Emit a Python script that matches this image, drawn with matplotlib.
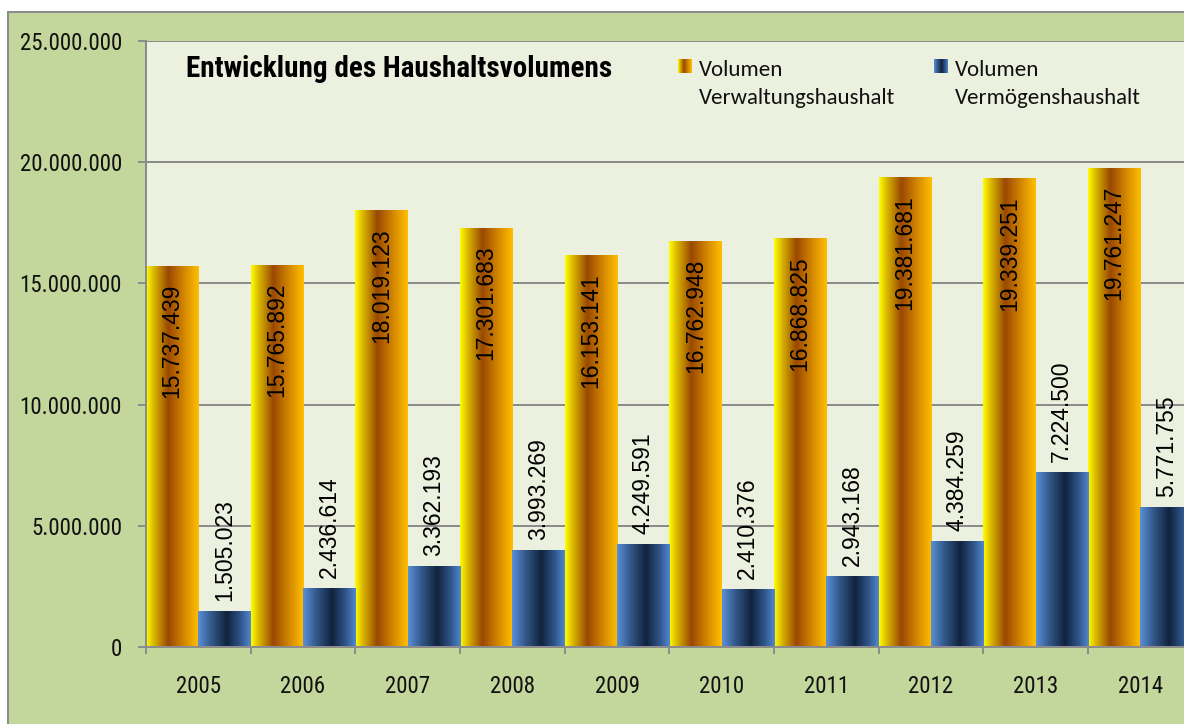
import numpy as np
import matplotlib
matplotlib.use("Agg")
import matplotlib.pyplot as plt
from matplotlib.colors import LinearSegmentedColormap
from matplotlib.patches import Rectangle
from matplotlib import font_manager as fm

years = ["2005", "2006", "2007", "2008", "2009", "2010", "2011", "2012", "2013", "2014"]
verwaltung = [15737439, 15765892, 18019123, 17301683, 16153141, 16762948, 16868825, 19381681, 19339251, 19761247]
vermoegen = [1505023, 2436614, 3362193, 3993269, 4249591, 2410376, 2943168, 4384259, 7224500, 5771755]
legend_labels = ["Volumen\nVerwaltungshaushalt", "Volumen\nVermögenshaushalt"]
title = "Entwicklung des Haushaltsvolumens"

names = {f.name for f in fm.fontManager.ttflist}

def pick(prefs):
    for p in prefs:
        if p in names:
            return p
    return "Liberation Sans"

NARROW = pick(["Liberation Sans Narrow", "Arial Narrow", "Roboto Condensed",
               "Archivo Narrow", "Pragati Narrow", "PT Sans Narrow"])
REG = "Liberation Sans"
LEG = pick(["Carlito", "Calibri", "Lato"])

W, H = 1184, 724
DPI = 100
fig = plt.figure(figsize=(W / DPI, H / DPI), dpi=DPI, facecolor="white")
px = 72 / DPI  # points per pixel

# outer chart area
fig.add_artist(Rectangle((8 / W, -0.05), 1.2, 1 - 12 / H + 0.05, transform=fig.transFigure,
                         facecolor="#C3D69B", edgecolor="#8C8C8C", lw=2 * px, zorder=-5))

left, right, top, bottom = 146, 1192.7, 41, 647
ax = fig.add_axes([left / W, 1 - bottom / H, (right - left) / W, (bottom - top) / H])
ax.set_facecolor("#EBF1DE")

cmap_y = LinearSegmentedColormap.from_list("y", [(0, "#FFFF00"), (0.15, "#D9B600"), (0.42, "#9A4800"),
                                               (0.75, "#D98D00"), (1, "#FFC000")])
cmap_b = LinearSegmentedColormap.from_list("b", [(0, "#5A90D8"), (0.25, "#33598A"), (0.55, "#10233D"),
                                               (0.8, "#2F5488"), (1, "#5088CF")])

x = np.arange(len(years))
bw = 0.5
bars_y = ax.bar(x - bw / 2, verwaltung, width=bw, facecolor="none", edgecolor="none", zorder=3)
bars_b = ax.bar(x + bw / 2, vermoegen, width=bw, facecolor="none", edgecolor="none", zorder=3)

grad = np.linspace(0, 1, 256).reshape(1, -1)
for bars, cm in ((bars_y, cmap_y), (bars_b, cmap_b)):
    for p in bars:
        x0, y0 = p.get_xy()
        im = ax.imshow(grad, extent=[x0, x0 + p.get_width(), y0, y0 + p.get_height()],
                       cmap=cm, aspect="auto", interpolation="bilinear", zorder=3)
        im.set_clip_path(p)

def fmt(v):
    return f"{v:,.0f}".replace(",", ".")

for i, v in enumerate(verwaltung):
    ax.annotate(fmt(v), (x[i] - bw / 2, v), xytext=(0, -18 * px), textcoords="offset points",
                rotation=90, ha="center", va="top", fontsize=16.5, family=REG, color="black", zorder=5)
for i, v in enumerate(vermoegen):
    ax.annotate(fmt(v), (x[i] + bw / 2, v), xytext=(0, 10 * px), textcoords="offset points",
                rotation=90, ha="center", va="bottom", fontsize=16.5, family=REG, color="black", zorder=5)

ax.set_xlim(-0.5, len(years) - 0.5)
ax.set_ylim(0, 25_000_000)
ax.set_yticks(np.arange(0, 25_000_001, 5_000_000))
ax.set_yticklabels([fmt(t) for t in np.arange(0, 25_000_001, 5_000_000)], family=NARROW, fontsize=16.5)
ax.yaxis.grid(True, color="#8C8C8C", lw=2 * px, zorder=1)
ax.set_axisbelow(True)
ax.tick_params(axis="y", length=8 * px, width=2 * px, color="#8C8C8C", pad=16 * px, labelcolor="#111111")

ax.set_xticks(np.arange(-0.5, len(years), 1))
ax.set_xticklabels([])
ax.set_xticks(x, minor=True)
ax.set_xticklabels(years, minor=True, family=NARROW, fontsize=16.5)
ax.tick_params(axis="x", which="major", length=7 * px, width=2 * px, color="#8C8C8C")
ax.tick_params(axis="x", which="minor", length=0, pad=28 * px, labelcolor="#111111")

for s in ("top", "right"):
    ax.spines[s].set_visible(False)
for s in ("left", "bottom"):
    ax.spines[s].set_color("#8C8C8C")
    ax.spines[s].set_linewidth(2 * px)
    ax.spines[s].set_zorder(4)

fig.text(186 / W, 1 - 77 / H, title, family=NARROW, fontweight="bold", fontsize=21,
         ha="left", va="baseline", color="black")

# legend
leg_items = [(678, cmap_y, legend_labels[0]), (934, cmap_b, legend_labels[1])]
for lx, cm, lab in leg_items:
    lax = fig.add_axes([lx / W, 1 - 73 / H, 14 / W, 14 / H])
    lax.imshow(grad, cmap=cm, aspect="auto", interpolation="bilinear")
    lax.set_axis_off()
    fig.text((lx + 21) / W, 1 - 104 / H, lab, family=LEG, fontsize=16.5, ha="left", va="baseline",
             linespacing=1.48, color="#111111")

fig.savefig("out.png", dpi=DPI, facecolor="white")
